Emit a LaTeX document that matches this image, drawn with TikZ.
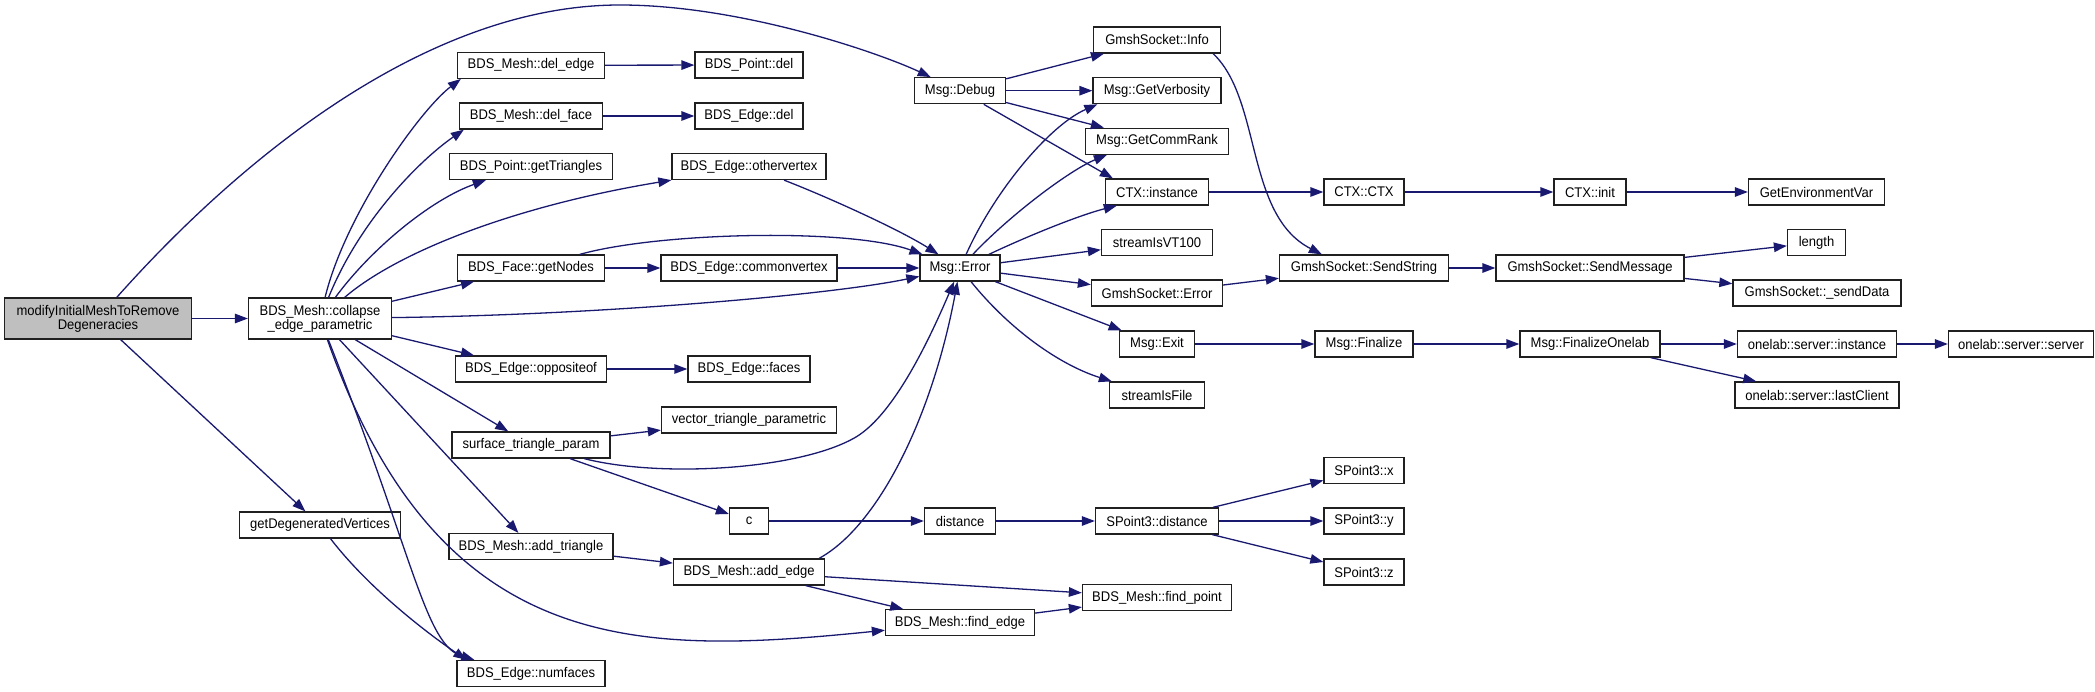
\documentclass[tikz,border=0pt]{standalone}
\usepackage{fontspec}
\setmainfont{Liberation Sans}[FakeStretch=0.93]
\usetikzlibrary{arrows.meta}
\definecolor{edgeblue}{HTML}{191970}
\definecolor{rootgray}{HTML}{BFBFBF}
\definecolor{boxline}{HTML}{202020}
\begin{document}
\begin{tikzpicture}[x=1pt,y=-1pt,
  box/.style={draw=boxline, line width=1.3pt, fill=white, minimum height=26pt, inner sep=0pt, font=\fontsize{14}{14}\selectfont, anchor=center},
  twoline/.style={box, minimum height=41pt, align=center},
  root/.style={twoline, fill=rootgray},
  call/.style={draw=edgeblue, line width=1.3pt, -{Triangle[length=13pt,width=9.5pt]}},
]
\useasboundingbox (0,0) rectangle (2095,692);
% column 0/1
\node[root, minimum width=187pt] (modify) at (98,318.5) {modifyInitialMeshToRemove\\Degeneracies};
\node[twoline, minimum width=143pt] (collapse) at (320,318.5) {BDS\_Mesh::collapse\\\_edge\_parametric};
\node[box, minimum width=161pt] (getdeg) at (320,525) {getDegeneratedVertices};
% column 2
\node[box, minimum width=147pt] (deledge) at (531,65.3) {BDS\_Mesh::del\_edge};
\node[box, minimum width=143pt] (delface) at (531,116) {BDS\_Mesh::del\_face};
\node[box, minimum width=163pt] (gettri) at (531,166.5) {BDS\_Point::getTriangles};
\node[box, minimum width=147pt] (getnodes) at (531,268) {BDS\_Face::getNodes};
\node[box, minimum width=151pt] (opp) at (531,369) {BDS\_Edge::oppositeof};
\node[box, minimum width=158pt] (surf) at (531,445) {surface\_triangle\_param};
\node[box, minimum width=164pt] (addtri) at (531,546.5) {BDS\_Mesh::add\_triangle};
\node[box, minimum width=148pt] (numfaces) at (531,673.5) {BDS\_Edge::numfaces};
% column 3
\node[box, minimum width=108pt] (pdel) at (749,65) {BDS\_Point::del};
\node[box, minimum width=108pt] (edel) at (749,116) {BDS\_Edge::del};
\node[box, minimum width=154pt] (other) at (749,166.5) {BDS\_Edge::othervertex};
\node[box, minimum width=176pt] (common) at (749,268) {BDS\_Edge::commonvertex};
\node[box, minimum width=122pt] (faces) at (749,369) {BDS\_Edge::faces};
\node[box, minimum width=175pt] (vtp) at (749,420) {vector\_triangle\_parametric};
\node[box, minimum width=39pt] (c) at (749,521) {c};
\node[box, minimum width=151pt] (addedge) at (749,572) {BDS\_Mesh::add\_edge};
% column 4
\node[box, minimum width=91pt] (debug) at (960,90.7) {Msg::Debug};
\node[box, minimum width=80pt] (error) at (960,268) {Msg::Error};
\node[box, minimum width=71pt] (distance) at (960,521) {distance};
\node[box, minimum width=149pt] (findedge) at (960,622.7) {BDS\_Mesh::find\_edge};
% column 5
\node[box, minimum width=127pt] (info) at (1157,40) {GmshSocket::Info};
\node[box, minimum width=128pt] (verb) at (1157,90.7) {Msg::GetVerbosity};
\node[box, minimum width=143pt] (comm) at (1157,141.3) {Msg::GetCommRank};
\node[box, minimum width=103pt] (ctxinst) at (1157,192) {CTX::instance};
\node[box, minimum width=111pt] (vt100) at (1157,242.5) {streamIsVT100};
\node[box, minimum width=131pt] (gserr) at (1157,293) {GmshSocket::Error};
\node[box, minimum width=75pt] (exit) at (1157,344) {Msg::Exit};
\node[box, minimum width=95pt] (sfile) at (1157,395) {streamIsFile};
\node[box, minimum width=123pt] (spdist) at (1157,521) {SPoint3::distance};
\node[box, minimum width=149pt] (findpt) at (1157,597.5) {BDS\_Mesh::find\_point};
% column 6
\node[box, minimum width=80pt] (ctxctx) at (1364,192) {CTX::CTX};
\node[box, minimum width=169pt] (sendstr) at (1364,268) {GmshSocket::SendString};
\node[box, minimum width=98pt] (finalize) at (1364,344) {Msg::Finalize};
\node[box, minimum width=80pt] (spx) at (1364,470.5) {SPoint3::x};
\node[box, minimum width=80pt] (spy) at (1364,521) {SPoint3::y};
\node[box, minimum width=80pt] (spz) at (1364,572) {SPoint3::z};
% column 7
\node[box, minimum width=72pt] (ctxinit) at (1590,192) {CTX::init};
\node[box, minimum width=188pt] (sendmsg) at (1590,268) {GmshSocket::SendMessage};
\node[box, minimum width=140pt] (finonelab) at (1590,344) {Msg::FinalizeOnelab};
% column 8
\node[box, minimum width=136pt] (getenv) at (1816.5,192) {GetEnvironmentVar};
\node[box, minimum width=58pt] (length) at (1816.5,242.5) {length};
\node[box, minimum width=168pt] (senddata) at (1817,293) {GmshSocket::\_sendData};
\node[box, minimum width=159pt] (olinst) at (1817,344) {onelab::server::instance};
\node[box, minimum width=164pt] (ollast) at (1817,395) {onelab::server::lastClient};
% column 9
\node[box, minimum width=145pt] (olserver) at (2021,344) {onelab::server::server};

% edges from modify
\draw[call] (modify) -- (collapse);
\draw[call] (modify) .. controls (230,170) and (420,5) .. (620,5) .. controls (740,5) and (877,52) .. (debug);
\draw[call] (modify) -- (getdeg);
% edges from collapse
\draw[call] (collapse) .. controls (345,215) and (420,110) .. ([xshift=4pt]deledge.south west);
\draw[call] (collapse) .. controls (360,220) and (420,160) .. ([xshift=5pt]delface.south west);
\draw[call] (collapse) .. controls (370,250) and (430,200) .. ([xshift=37pt]gettri.south west);
\draw[call] (collapse) .. controls (400,250) and (520,205) .. (other.south west);
\draw[call] (collapse) -- (getnodes);
\draw[call] (collapse) .. controls (600,315) and (830,295) .. (error);
\draw[call] (collapse) -- (opp);
\draw[call] (collapse) -- (surf);
\draw[call] (collapse) -- (addtri);
\draw[call] (collapse) .. controls (415,560) and (425,645) .. ([xshift=18pt]numfaces.north west);
\draw[call] (collapse) .. controls (440,660) and (640,655) .. (findedge);
\draw[call] (getdeg) .. controls (370,590) and (430,635) .. ([xshift=10pt]numfaces.north west);
% column 2 -> 3
\draw[call] (deledge) -- (pdel);
\draw[call] (delface) -- (edel);
\draw[call] (getnodes) -- (common);
\draw[call] (getnodes) .. controls (660,232) and (850,228) .. (error);
\draw[call] (opp) -- (faces);
\draw[call] (surf) -- (vtp);
\draw[call] (surf) -- (c);
\draw[call] (surf) .. controls (660,478) and (800,470) .. (856,437) .. controls (896,413) and (932,333) .. (error);
\draw[call] (addtri) -- (addedge);
% column 3 -> 4
\draw[call] (other) .. controls (830,198) and (900,230) .. (error);
\draw[call] (common) -- (error);
\draw[call] (c) -- (distance);
\draw[call] ([xshift=-6pt]addedge.north east) .. controls (878,526) and (932,418) .. (error);
\draw[call] (addedge) -- (findpt);
\draw[call] (addedge) -- (findedge);
% column 4 -> 5
\draw[call] (debug) -- (info);
\draw[call] (debug) -- (verb);
\draw[call] (debug) -- (comm);
\draw[call] (debug) -- ([xshift=8pt]ctxinst.north west);
\draw[call] (error) .. controls (995,190) and (1050,125) .. ([xshift=5pt]verb.south west);
\draw[call] (error) .. controls (1010,215) and (1070,170) .. ([xshift=22pt]comm.south west);
\draw[call] (error) .. controls (1030,235) and (1080,215) .. ([xshift=12pt]ctxinst.south west);
\draw[call] (error) -- (vt100);
\draw[call] (error) -- (gserr);
\draw[call] (error) -- (exit);
\draw[call] (error) .. controls (1010,330) and (1060,365) .. ([xshift=3pt]sfile.north west);
\draw[call] (distance) -- (spdist);
\draw[call] (findedge) -- (findpt);
% column 5 -> 6
\draw[call] ([xshift=-8pt]info.south east) .. controls (1262,100) and (1245,215) .. ([xshift=43pt]sendstr.north west);
\draw[call] (ctxinst) -- (ctxctx);
\draw[call] (gserr) -- (sendstr);
\draw[call] (exit) -- (finalize);
\draw[call] (spdist) -- (spx);
\draw[call] (spdist) -- (spy);
\draw[call] (spdist) -- (spz);
% column 6 -> 7
\draw[call] (ctxctx) -- (ctxinit);
\draw[call] (sendstr) -- (sendmsg);
\draw[call] (finalize) -- (finonelab);
% column 7 -> 8
\draw[call] (ctxinit) -- (getenv);
\draw[call] (sendmsg) -- (length);
\draw[call] (sendmsg) -- (senddata);
\draw[call] (finonelab) -- (olinst);
\draw[call] (finonelab) -- (ollast);
\draw[call] (olinst) -- (olserver);
\end{tikzpicture}
\end{document}
